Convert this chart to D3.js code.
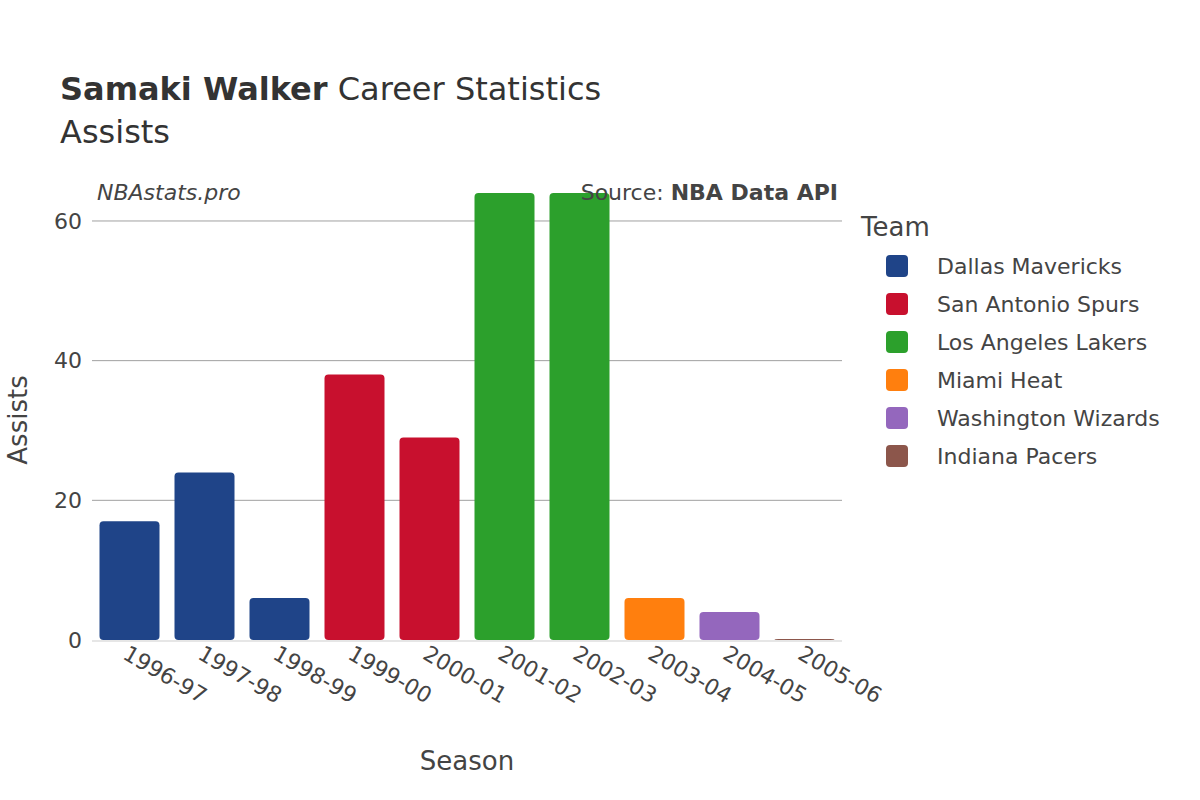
<!DOCTYPE html>
<html><head><meta charset="utf-8">
<script src="https://cdn.jsdelivr.net/npm/d3@7"></script>
<style>body{margin:0;background:#fff;font-family:"DejaVu Sans",sans-serif;}</style>
</head><body><div id="chart"></div>
<script>
// data
const seasons = ["1996-97","1997-98","1998-99","1999-00","2000-01","2001-02","2002-03","2003-04","2004-05","2005-06"];
const assists = [17, 24, 6, 38, 29, 64, 64, 6, 4, 0];
const seasonTeams = ["Dallas Mavericks","Dallas Mavericks","Dallas Mavericks","San Antonio Spurs","San Antonio Spurs","Los Angeles Lakers","Los Angeles Lakers","Miami Heat","Washington Wizards","Indiana Pacers"];
const teams = ["Dallas Mavericks","San Antonio Spurs","Los Angeles Lakers","Miami Heat","Washington Wizards","Indiana Pacers"];
const teamColors = ["#1f4488","#c8102e","#2ca02c","#ff7f0e","#9467bd","#8c564b"];
const yTicks = [0, 20, 40, 60];

const W = 1200, H = 800;
const margin = {top: 170, right: 358, bottom: 160, left: 92};
const width = W - margin.left - margin.right;
const height = H - margin.top - margin.bottom;

const svg = d3.select("#chart").append("svg").attr("width", W).attr("height", H);
const g = svg.append("g").attr("transform", `translate(${margin.left},${margin.top})`);

const x = d3.scaleBand().domain(seasons).range([0, width]).paddingInner(0.2).paddingOuter(0.1);
const y = d3.scaleLinear().domain([0, 67.3]).range([height, 0]);
const color = d3.scaleOrdinal().domain(teams).range(teamColors);

// grid
g.selectAll(".grid").data(yTicks.filter(d => d > 0)).enter().append("line")
  .attr("x1", 0).attr("x2", width).attr("y1", d => y(d)).attr("y2", d => y(d))
  .attr("stroke", "#a0a0a0").attr("stroke-width", 1);
g.append("line").attr("x1", 0).attr("x2", width).attr("y1", y(0)+1).attr("y2", y(0)+1)
  .attr("stroke", "#e6e6e6").attr("stroke-width", 2);

// bars
const data = seasons.map((s, i) => ({season: s, value: assists[i], team: seasonTeams[i]}));
g.selectAll(".bar").data(data).enter().append("rect")
  .attr("x", d => x(d.season)).attr("width", x.bandwidth())
  .attr("y", d => Math.min(y(d.value), y(0) - 1)).attr("height", d => Math.max(y(0) - y(d.value), 1))
  .attr("rx", 4).attr("fill", d => color(d.team));

// axes
const yAxis = g.append("g").call(d3.axisLeft(y).tickValues(yTicks).tickSize(0).tickPadding(10));
yAxis.select(".domain").remove();
yAxis.selectAll("text").attr("font-size", 22).attr("fill", "#444").attr("font-family", "DejaVu Sans");

const xAxis = g.append("g").attr("transform", `translate(0,${height})`)
  .call(d3.axisBottom(x).tickSize(0).tickPadding(0));
xAxis.select(".domain").remove();
xAxis.selectAll("text").attr("font-size", 22).attr("fill", "#444").attr("font-family", "DejaVu Sans")
  .attr("text-anchor", "start").attr("dy", 0)
  .attr("transform", "translate(-8,18) rotate(30)");

// titles
const title = svg.append("text").attr("x", 60).attr("y", 100).attr("font-size", 32).attr("fill", "#333");
title.append("tspan").attr("font-weight", "bold").text("Samaki Walker");
title.append("tspan").text(" Career Statistics");
svg.append("text").attr("x", 60).attr("y", 143).attr("font-size", 32).attr("fill", "#333").text("Assists");

svg.append("text").attr("x", 97).attr("y", 200).attr("font-size", 22).attr("font-style", "italic").attr("fill", "#444").text("NBAstats.pro");
const src = svg.append("text").attr("x", 838).attr("y", 200).attr("text-anchor", "end").attr("font-size", 22).attr("fill", "#444");
src.append("tspan").text("Source: ");
src.append("tspan").attr("font-weight", "bold").text("NBA Data API");

svg.append("text").attr("x", 467).attr("y", 770).attr("text-anchor", "middle").attr("font-size", 26).attr("fill", "#444").text("Season");
svg.append("text").attr("transform", "translate(27,420) rotate(-90)").attr("text-anchor", "middle").attr("font-size", 26).attr("fill", "#444").text("Assists");

// legend
svg.append("text").attr("x", 861).attr("y", 236).attr("font-size", 26).attr("fill", "#444").text("Team");
const leg = svg.selectAll(".leg").data(teams).enter().append("g")
  .attr("transform", (d, i) => `translate(886,${266 + i * 38})`);
leg.append("rect").attr("x", 0).attr("y", -11).attr("width", 22).attr("height", 22).attr("rx", 4).attr("fill", d => color(d));
leg.append("text").attr("x", 51).attr("y", 8).attr("font-size", 22).attr("fill", "#444").text(d => d);
</script></body></html>
